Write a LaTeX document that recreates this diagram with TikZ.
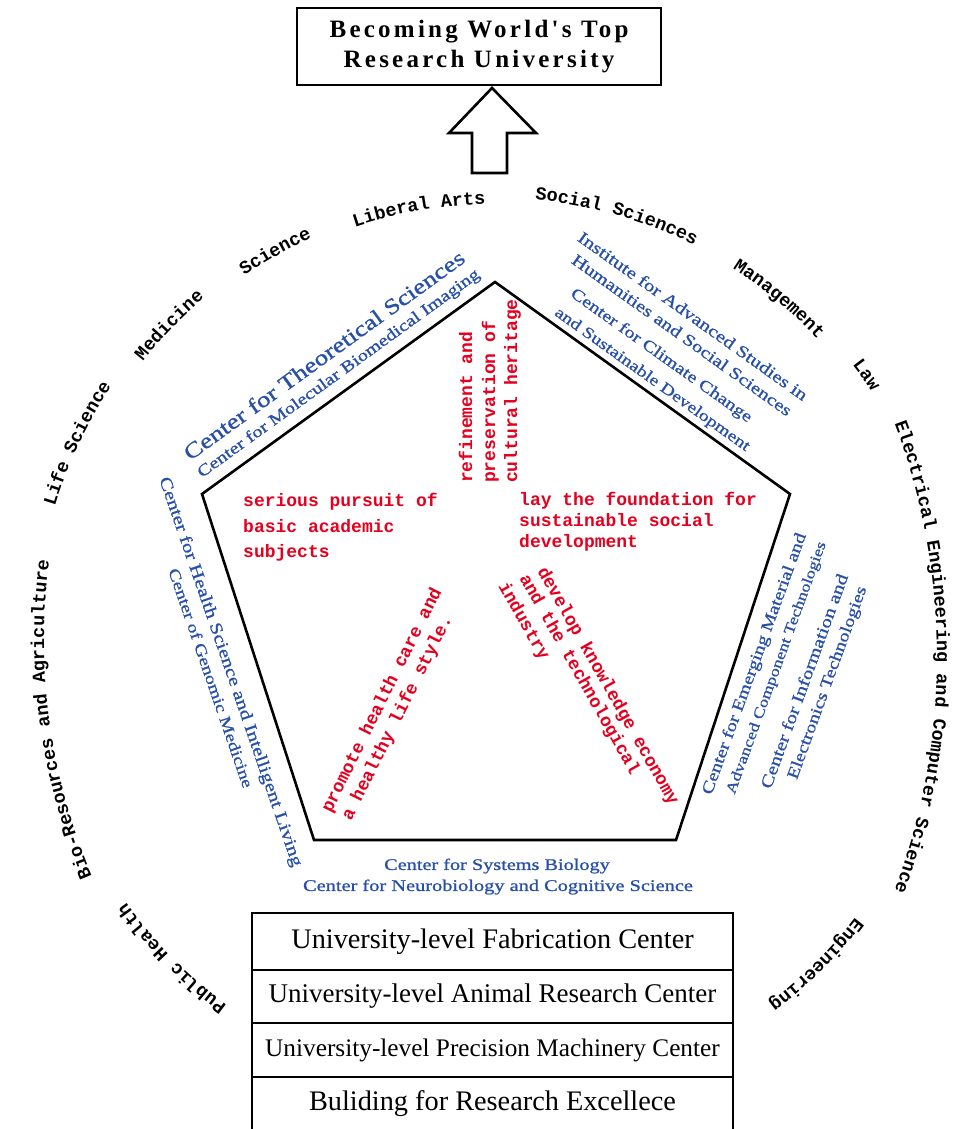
\documentclass[tikz,border=0pt]{standalone}
\usepackage{fontspec}
\setmainfont{Liberation Serif}
\newfontfamily\monofont{Liberation Mono}
\newfontfamily\titlefont[LetterSpace=13]{Liberation Serif}
\newfontfamily\wideserif[FakeStretch=1.25, FakeBold=1]{Liberation Serif}
\usetikzlibrary{calc,decorations.text}

\definecolor{centreblue}{RGB}{40,80,168}
\definecolor{goalred}{RGB}{228,0,30}

\newcommand\ringfont{\monofont\bfseries\fontsize{18.5}{20}\selectfont}
% college name set along a circular arc, centred on the given angle
\newcommand\ringlabel[4]{%
  \path[decorate, decoration={text along path, text align=center, text={|\ringfont|#4}}]
    ($(#1)+(#3-26:#2)$) arc[start angle=#3-26, end angle=#3+26, radius=#2];
}

\tikzset{
  bluetext/.style={text=centreblue, inner sep=0pt, font=\wideserif\fontsize{#1}{#1}\selectfont},
  redtext/.style={text=goalred, inner sep=0pt, anchor=base west,
    font=\monofont\bfseries\fontsize{18}{22}\selectfont},
  rowbox/.style={draw, line width=2.2pt, minimum width=481pt, inner sep=0pt,
    font=\fontsize{#1}{#1}\selectfont},
  heavy/.style={line width=2.6pt, line join=miter}
}

\begin{document}
\begin{tikzpicture}[x=1pt, y=-1pt]
\useasboundingbox (0,0) rectangle (977,1129);

% goal box and upward arrow
\node[draw, heavy, minimum width=364pt, minimum height=77pt, inner sep=0pt, align=center,
      font=\titlefont\bfseries\fontsize{25}{30}\selectfont] (goal) at (479,46.5)
      {Becoming World's Top\\Research University};
\coordinate (tip) at (492,88);
\draw[heavy] (tip) -- (536,133) -- (507,133) -- (507,173) -- (472,173) -- (472,133) -- (449,133) -- cycle;

% colleges around the ring
\ringlabel{495,640}{436}{-100}{Liberal Arts}
\ringlabel{495,640}{442}{-74}{Social Sciences}
\ringlabel{495,640}{442}{-119.5}{Science}
\ringlabel{495,640}{449}{-136}{Medicine}
\ringlabel{495,640}{460}{-154.8}{Life Science}
\ringlabel{650,640}{606}{172.3}{Bio-Resources and Agriculture}
\ringlabel{495,640}{453}{135.4}{Public Health}
\ringlabel{495,640}{455}{45.3}{Engineering}
\ringlabel{273,657}{664}{0}{Electrical Engineering and Computer Science}
\ringlabel{495,640}{451}{-35.5}{Law}
\ringlabel{495,640}{441}{-50.2}{Management}

% pentagon
\coordinate (pT) at (495,282);
\coordinate (pUR) at (790,494);
\coordinate (pLR) at (676,840);
\coordinate (pLL) at (314,840);
\coordinate (pUL) at (202,494);
\draw[heavy] (pT) -- (pUR) -- (pLR) -- (pLL) -- (pUL) -- cycle;

% research centres along the sides
\node[bluetext=21.6, rotate=35.9] (cTheo) at (324,355) {Center for Theoretical Sciences};
\node[bluetext=16.3, rotate=35.9] (cMol) at (339,374) {Center for Molecular Biomedical Imaging};

\node[bluetext=16.8, rotate=-35.5] (cIAS) at (693,316) {Institute for Advanced Studies in};
\node[bluetext=16.6, rotate=-35.5] (cHum) at (682,335) {Humanities and Social Sciences};
\node[bluetext=16.2, rotate=-35.5] (cClim) at (661,356) {Center for Climate Change};
\node[bluetext=15.8, rotate=-35.5] (cSust) at (652,380) {and Sustainable Development};

\node[bluetext=17, rotate=-71] (cHealth) at (230,672) {Center for Health Science and Intelligent Living};
\node[bluetext=15.8, rotate=-71] (cGen) at (211,678) {Center of Genomic Medicine};

\node[bluetext=16.3, rotate=70] (cMat) at (755,664) {Center for Emerging Material and};
\node[bluetext=14.7, rotate=70] (cComp) at (777,668) {Advanced Component Technologies};
\node[bluetext=16.8, rotate=70] (cInfo) at (804,681) {Center for Information and};
\node[bluetext=16.2, rotate=70] (cElec) at (828,683) {Electronics Technologies};

\node[bluetext=16.2] (cSys) at (497,866) {Center for Systems Biology};
\node[bluetext=16.3] (cNeuro) at (498,887) {Center for Neurobiology and Cognitive Science};

% goals inside the pentagon
\node[redtext] (gBas1) at (243,506) {serious pursuit of};
\node[redtext] (gBas2) at (243,532) {basic academic};
\node[redtext] (gBas3) at (243,557) {subjects};

\node[redtext] (gSoc1) at (519,505) {lay the foundation for};
\node[redtext] (gSoc2) at (519,526) {sustainable social};
\node[redtext] (gSoc3) at (519,547) {development};

\node[redtext, rotate=90] (gCul1) at (472,483) {refinement and};
\node[redtext, rotate=90] (gCul2) at (495,483) {preservation of};
\node[redtext, rotate=90] (gCul3) at (517,483) {cultural heritage};

\node[redtext, rotate=63.5] (gHea1) at (331,814) {promote health care and};
\node[redtext, rotate=63.5] (gHea2) at (351,822) {a healthy life style.};

\node[redtext, rotate=-60.5] (gTec1) at (537,571) {develop knowledge economy};
\node[redtext, rotate=-60.5] (gTec2) at (519,578) {and the technological};
\node[redtext, rotate=-60.5] (gTec3) at (498,586) {industry};

% shared facilities
\node[rowbox=28.3, minimum height=57pt] (fab) at (492.5,941.5) {University-level Fabrication Center};
\node[rowbox=27, minimum height=53pt] (animal) at (492.5,996.5) {University-level Animal Research Center};
\node[rowbox=25.3, minimum height=54pt] (machine) at (492.5,1050) {University-level Precision Machinery Center};
\node[rowbox=28.3, minimum height=54pt] (build) at (492.5,1104) {Buliding for Research Excellece};
\end{tikzpicture}
\end{document}
